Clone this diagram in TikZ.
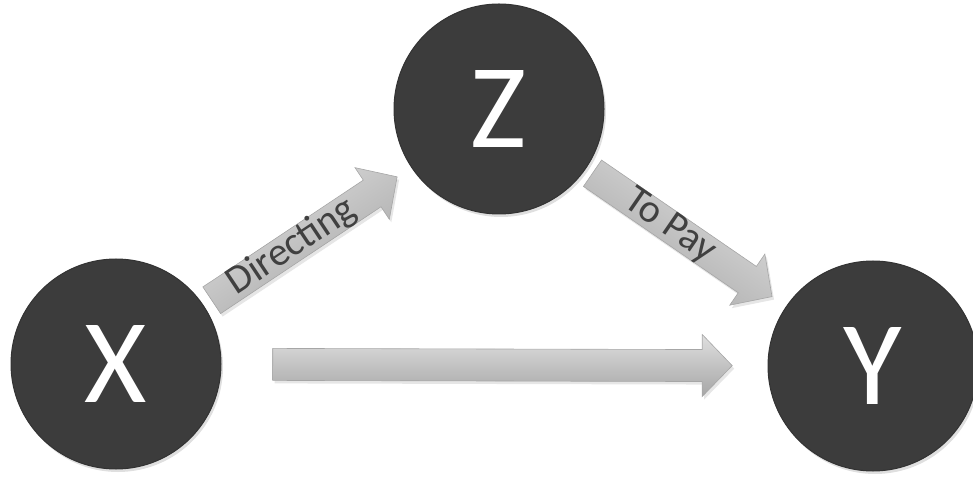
\documentclass[tikz,border=0pt]{standalone}
\usepackage{fontspec}
\setmainfont{Carlito}
\usetikzlibrary{calc,shadows}

\definecolor{balldark}{RGB}{60,60,60}

\tikzset{
  ball/.style={circle, minimum size=210pt, fill=balldark, draw=black!80, line width=1pt,
    text=white, font=\fontsize{120}{122}\selectfont,
    drop shadow={opacity=0.25, shadow xshift=2pt, shadow yshift=-3pt}},
  blockarrow/.style={draw=gray!70, line width=0.6pt, top color=gray!25, middle color=gray!48, bottom color=gray!70,
    drop shadow={opacity=0.2, shadow xshift=2pt, shadow yshift=-3pt}},
  arrowtext/.style={font=\fontsize{40}{41}\selectfont, text=black!75, sloped}
}

\newcommand{\blockarr}[6]{%
  \coordinate (s) at ($(#1.center)!#3!(#2.center)$);
  \coordinate (e) at ($(#1.center)!#4!(#2.center)$);
  \coordinate (h) at ($(e)!30pt!(s)$);
  \shade[blockarrow, shading angle=#5] ($(s)!16pt!90:(e)$) -- ($(h)!16pt!-90:(s)$) -- ($(h)!31pt!-90:(s)$) -- (e)
    -- ($(h)!31pt!90:(s)$) -- ($(h)!16pt!90:(s)$) -- ($(s)!16pt!-90:(e)$) -- cycle;
  \path (s) -- (h) node[midway, arrowtext] {#6};
}

\begin{document}
\begin{tikzpicture}[x=1pt, y=1pt]
\useasboundingbox (0,0) rectangle (973,476);

\node[ball] (X) at (116,112) {X};
\node[ball] (Z) at (499,367) {Z};
\node[ball] (Y) at (873,110) {Y};

\blockarr{X}{Z}{0.25}{0.734}{33.66}{Directing}
\blockarr{Z}{Y}{0.25}{0.73}{-34.5}{To Pay}
\blockarr{X}{Y}{0.207}{0.814}{0}{}
\end{tikzpicture}
\end{document}
